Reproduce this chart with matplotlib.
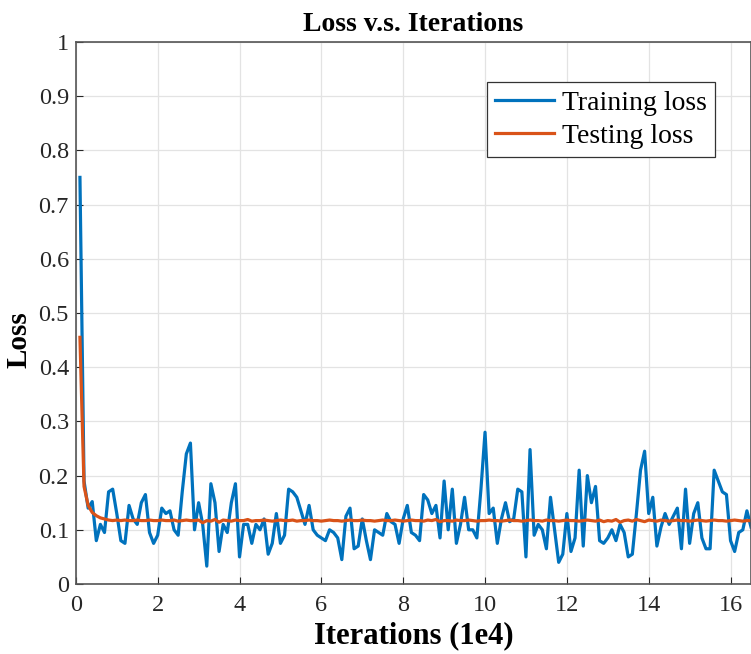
import matplotlib.pyplot as plt
import numpy as np

# 데이터
iters = np.arange(1, 166) / 10.0

train_loss = [
    0.75, 0.19, 0.14, 0.152, 0.08, 0.11, 0.095, 0.17, 0.175, 0.13,
    0.08, 0.075, 0.145, 0.12, 0.11, 0.15, 0.165, 0.095, 0.075, 0.09,
    0.14, 0.13, 0.135, 0.10, 0.09, 0.17, 0.24, 0.26, 0.10, 0.15,
    0.11, 0.033, 0.185, 0.15, 0.06, 0.11, 0.095, 0.15, 0.185, 0.05,
    0.11, 0.11, 0.075, 0.11, 0.10, 0.12, 0.055, 0.075, 0.13, 0.075,
    0.09, 0.175, 0.17, 0.16, 0.135, 0.11, 0.145, 0.10, 0.09, 0.085,
    0.08, 0.10, 0.095, 0.085, 0.045, 0.125, 0.14, 0.065, 0.07, 0.12,
    0.08, 0.045, 0.10, 0.095, 0.09, 0.13, 0.115, 0.11, 0.075, 0.12,
    0.145, 0.095, 0.09, 0.08, 0.165, 0.155, 0.13, 0.145, 0.085, 0.19,
    0.10, 0.175, 0.075, 0.11, 0.16, 0.10, 0.10, 0.085, 0.175, 0.28,
    0.13, 0.14, 0.075, 0.12, 0.15, 0.115, 0.12, 0.175, 0.17, 0.05,
    0.248, 0.09, 0.11, 0.10, 0.065, 0.16, 0.10, 0.04, 0.055, 0.13,
    0.06, 0.085, 0.21, 0.07, 0.20, 0.15, 0.18, 0.08, 0.075, 0.085,
    0.10, 0.08, 0.11, 0.095, 0.05, 0.055, 0.13, 0.21, 0.245, 0.13,
    0.16, 0.07, 0.105, 0.13, 0.11, 0.125, 0.14, 0.065, 0.175, 0.075,
    0.13, 0.15, 0.085, 0.065, 0.065, 0.21, 0.19, 0.17, 0.165, 0.08,
    0.06, 0.095, 0.10, 0.135, 0.105,
]

test_loss = [
    0.455, 0.18, 0.145, 0.132, 0.126, 0.122, 0.12, 0.118, 0.117, 0.118,
    0.117, 0.118, 0.117, 0.117, 0.118, 0.117, 0.117, 0.118, 0.117, 0.117,
    0.118, 0.117, 0.117, 0.118, 0.116, 0.117, 0.118, 0.117, 0.117, 0.118,
    0.113, 0.117, 0.116, 0.119, 0.114, 0.118, 0.117, 0.116, 0.118, 0.117,
    0.117, 0.119, 0.116, 0.117, 0.117, 0.118, 0.117, 0.116, 0.117, 0.118,
    0.117, 0.117, 0.118, 0.116, 0.117, 0.117, 0.118, 0.117, 0.117, 0.116,
    0.117, 0.118, 0.117, 0.117, 0.116, 0.117, 0.118, 0.117, 0.117, 0.118,
    0.117, 0.117, 0.116, 0.117, 0.118, 0.117, 0.117, 0.118, 0.117, 0.116,
    0.117, 0.118, 0.117, 0.117, 0.116, 0.118, 0.117, 0.119, 0.115, 0.117,
    0.117, 0.116, 0.118, 0.117, 0.117, 0.118, 0.117, 0.116, 0.117, 0.117,
    0.118, 0.117, 0.117, 0.116, 0.117, 0.118, 0.117, 0.117, 0.116, 0.117,
    0.118, 0.117, 0.117, 0.116, 0.118, 0.117, 0.117, 0.116, 0.117, 0.118,
    0.117, 0.117, 0.116, 0.117, 0.118, 0.117, 0.116, 0.118, 0.115, 0.117,
    0.116, 0.119, 0.114, 0.117, 0.118, 0.116, 0.119, 0.117, 0.115, 0.118,
    0.117, 0.116, 0.118, 0.117, 0.116, 0.117, 0.118, 0.117, 0.117, 0.116,
    0.117, 0.118, 0.117, 0.116, 0.117, 0.118, 0.117, 0.117, 0.116, 0.117,
    0.118, 0.117, 0.116, 0.117, 0.117,
]

ytick_labels = ['0', '0.1', '0.2', '0.3', '0.4', '0.5', '0.6', '0.7', '0.8', '0.9', '1']

plt.rcParams['font.family'] = ['Liberation Serif', 'DejaVu Serif']

fig = plt.figure(figsize=(7.51, 6.54), dpi=100)
ax = fig.add_axes([0.101, 0.107, 0.899, 0.829])

ax.plot(iters, train_loss, color='#0072BD', lw=2.3, label='Training loss')
ax.plot(iters, test_loss, color='#D95319', lw=2.3, label='Testing loss')

ax.set_xlim(0, 16.5)
ax.set_ylim(0, 1)
ax.set_xticks(np.arange(0, 17, 2))
ax.set_yticks(np.arange(0, 1.01, 0.1))
ax.set_yticklabels(ytick_labels)
ax.grid(True, color='#e3e3e3', lw=0.9)
ax.set_axisbelow(True)
ax.tick_params(direction='in', labelsize=17.5, colors='#262626', length=5, pad=5)
ax.tick_params(axis='x', pad=8)
for s in ax.spines.values():
    s.set_color('#555555')
    s.set_linewidth(1.2)

ax.set_title('Loss v.s. Iterations', fontsize=20, fontweight='bold', pad=8)
ax.set_xlabel('Iterations (1e4)', fontsize=22, fontweight='bold', labelpad=4)
ax.set_ylabel('Loss', fontsize=21, fontweight='bold')
ax.yaxis.set_label_coords(-0.064, 0.45)

leg = ax.legend(loc='upper right', bbox_to_anchor=(0.947, 0.926), fontsize=20,
                fancybox=False, framealpha=1, edgecolor='#333333',
                handlelength=2.1, borderpad=0.3, labelspacing=0.28, handletextpad=0.3,
                borderaxespad=0)
leg.get_frame().set_linewidth(0.9)

plt.savefig('out.png', dpi=100)
